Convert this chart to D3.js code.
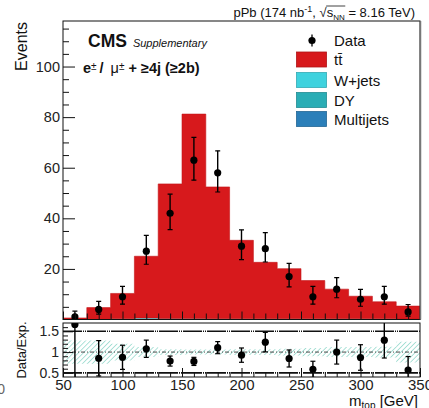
<!DOCTYPE html>
<html><head><meta charset="utf-8">
<script src="https://cdn.jsdelivr.net/npm/d3@7"></script>
<style>
html,body{margin:0;padding:0;background:#fff;}
svg{display:block;font-family:"Liberation Sans",Arial,Helvetica,sans-serif;}
</style></head><body>
<svg id="chart" width="429" height="408"></svg>
<script>
// m_top bins (lower edges, 20 GeV wide)
const binLow = [50, 70, 90, 110, 130, 150, 170, 190, 210, 230, 250, 270, 290, 310, 330];
const binWidth = 20;

// Observed events and asymmetric Poisson uncertainties
const dataCounts  = [1, 4, 9, 27, 42, 63, 58, 29, 28, 17, 9, 12, 8, 9, 3];
const dataErrUp   = [2.30, 3.16, 4.11, 6.26, 7.53, 8.98, 8.66, 6.44, 6.35, 5.20, 4.11, 4.58, 3.94, 4.11, 2.92];
const dataErrDown = [0.83, 1.91, 2.94, 5.16, 6.45, 7.91, 7.59, 5.35, 5.26, 4.08, 2.94, 3.41, 2.76, 2.94, 1.63];

// Expected yields per process
const ttbar     = [0.6, 4.7, 10.0, 24.4, 53.2, 80.8, 52.1, 31.0, 22.3, 19.8, 15.1, 11.7, 8.9, 6.7, 5.1];
const wjets     = [0, 0, 0.1, 0.3, 0.2, 0.2, 0.1, 0.1, 0.1, 0.1, 0.1, 0.1, 0.1, 0.1, 0];
const dy        = [0, 0, 0.1, 0.2, 0.1, 0.1, 0.1, 0.1, 0.1, 0.1, 0.1, 0.1, 0.1, 0.1, 0.1];
const multijets = [0, 0, 0.1, 0.1, 0.1, 0.1, 0.1, 0.1, 0.1, 0.1, 0.1, 0.1, 0.1, 0.1, 0.1];

// Relative uncertainty of the expectation (ratio band)
const relUnc = [0.28, 0.28, 0.2, 0.12, 0.07, 0.06, 0.06, 0.07, 0.07, 0.08, 0.1, 0.12, 0.12, 0.13, 0.25];

// Axis ticks
const yMajor = [20, 40, 60, 80, 100];
const xMajor = [50, 100, 150, 200, 250, 300, 350];
const rMajor = [0.5, 1, 1.5];

const colors = {ttbar: "#d7191c", wjets: "#3fd2de", dy: "#2aadb5", multijets: "#2b7fb9"};

const svg = d3.select("#chart");
const L = 63, R = 420, T = 21, MB = 319.5, RT = 323, RB = 377;

const x = d3.scaleLinear().domain([50, 350]).range([L, R]);
const y = d3.scaleLinear().domain([0, 118]).range([MB, T]);
const yr = d3.scaleLinear().domain([0.4, 1.7]).range([RB, RT]);

const defs = svg.append("defs");
defs.append("clipPath").attr("id", "clipMain").append("rect")
  .attr("x", L).attr("y", T).attr("width", R - L).attr("height", MB - T);
defs.append("clipPath").attr("id", "clipRatio").append("rect")
  .attr("x", L).attr("y", RT).attr("width", R - L).attr("height", RB - RT);
const pat = defs.append("pattern").attr("id", "hatch").attr("patternUnits", "userSpaceOnUse")
  .attr("width", 3.5).attr("height", 3.5).attr("patternTransform", "rotate(45)");
pat.append("line").attr("x1", 0).attr("y1", 0).attr("x2", 0).attr("y2", 3.5)
  .attr("stroke", "#93d9cc").attr("stroke-width", 1.5);

// ---- stacked expectation ----
const rows = binLow.map((lo, i) => ({lo, multijets: multijets[i], dy: dy[i], wjets: wjets[i], ttbar: ttbar[i]}));
const keys = ["multijets", "dy", "wjets", "ttbar"];
const stacked = d3.stack().keys(keys)(rows);
const total = rows.map(r => keys.reduce((s, k) => s + r[k], 0));

const stepArea = d3.area().x(p => x(p.x)).y0(p => y(p.y0)).y1(p => y(p.y1));
const gMain = svg.append("g").attr("clip-path", "url(#clipMain)");
stacked.forEach(series => {
  const pts = [];
  series.forEach((d, i) => {
    pts.push({x: binLow[i], y0: d[0], y1: d[1]});
    pts.push({x: binLow[i] + binWidth, y0: d[0], y1: d[1]});
  });
  gMain.append("path").attr("d", stepArea(pts)).attr("fill", colors[series.key])
    .attr("stroke", series.key === "ttbar" ? "#c2161a" : "none").attr("stroke-width", 0.6);
});

// ---- data points ----
const gData = svg.append("g").attr("clip-path", "url(#clipMain)");
dataCounts.forEach((n, i) => {
  const cx = x(binLow[i] + binWidth / 2);
  const yu = y(n + dataErrUp[i]), yd = y(n - dataErrDown[i]);
  gData.append("line").attr("x1", cx).attr("x2", cx).attr("y1", yu).attr("y2", yd)
    .attr("stroke", "#000").attr("stroke-width", 1.4);
  [yu, yd].forEach(yy => gData.append("line").attr("x1", cx - 2.5).attr("x2", cx + 2.5)
    .attr("y1", yy).attr("y2", yy).attr("stroke", "#000").attr("stroke-width", 1.2));
  gData.append("circle").attr("cx", cx).attr("cy", y(n)).attr("r", 3.6).attr("fill", "#000");
});

// ---- main frame and axes ----
const gyMinor = svg.append("g").attr("transform", `translate(${L},0)`)
  .call(d3.axisLeft(y).tickValues(d3.range(5, 116, 5).filter(v => v % 20 !== 0)).tickSize(-6).tickFormat(""));
const gyMajor = svg.append("g").attr("transform", `translate(${L},0)`)
  .call(d3.axisLeft(y).tickValues(yMajor).tickSize(-12).tickPadding(3));
const gxMainMinor = svg.append("g").attr("transform", `translate(0,${MB})`)
  .call(d3.axisBottom(x).tickValues(d3.range(60, 350, 10).filter(v => v % 50 !== 0)).tickSize(-6).tickFormat(""));
const gxMainMajor = svg.append("g").attr("transform", `translate(0,${MB})`)
  .call(d3.axisBottom(x).tickValues(xMajor).tickSize(-8).tickFormat(""));
[gyMinor, gyMajor, gxMainMinor, gxMainMajor].forEach(g => {
  g.select(".domain").remove();
  g.selectAll("line").attr("stroke", "#111").attr("stroke-width", 1);
});
gyMajor.selectAll("text").style("font-size", "14.5px").attr("fill", "#222").attr("font-family", null);

svg.append("rect").attr("x", L).attr("y", T).attr("width", R - L).attr("height", MB - T)
  .attr("fill", "none").attr("stroke", "#111").attr("stroke-width", 1);
svg.append("line").attr("x1", R + 0.5).attr("x2", R + 0.5).attr("y1", T).attr("y2", MB)
  .attr("stroke", "#777").attr("stroke-width", 1.5);

// ---- ratio pad ----
const gRatio = svg.append("g").attr("clip-path", "url(#clipRatio)");
const bandPts = [];
relUnc.forEach((u, i) => {
  bandPts.push({x: binLow[i], y0: 1 - u, y1: 1 + u});
  bandPts.push({x: binLow[i] + binWidth, y0: 1 - u, y1: 1 + u});
});
gRatio.append("path").attr("d", d3.area().x(p => x(p.x)).y0(p => yr(p.y0)).y1(p => yr(p.y1))(bandPts))
  .attr("fill", "url(#hatch)");

[0.5, 1.5].forEach(v => gRatio.append("line").attr("x1", L).attr("x2", R).attr("y1", yr(v)).attr("y2", yr(v))
  .attr("stroke", "#111").attr("stroke-width", 1.6).attr("stroke-dasharray", "19 1 1 1 1 1"));
gRatio.append("line").attr("x1", L).attr("x2", R).attr("y1", yr(1)).attr("y2", yr(1))
  .attr("stroke", "#333").attr("stroke-width", 0.9).attr("stroke-dasharray", "4 2 1 2");

dataCounts.forEach((n, i) => {
  const cx = x(binLow[i] + binWidth / 2);
  const r = n / total[i], e = Math.sqrt(n) / total[i];
  const yu = yr(r + e), yd = yr(r - e);
  gRatio.append("line").attr("x1", cx).attr("x2", cx).attr("y1", yu).attr("y2", yd)
    .attr("stroke", "#000").attr("stroke-width", 1.4);
  [yu, yd].forEach(yy => gRatio.append("line").attr("x1", cx - 2.5).attr("x2", cx + 2.5)
    .attr("y1", yy).attr("y2", yy).attr("stroke", "#000").attr("stroke-width", 1.2));
  gRatio.append("circle").attr("cx", cx).attr("cy", yr(r)).attr("r", 3.6).attr("fill", "#000");
});

const grMinor = svg.append("g").attr("transform", `translate(${L},0)`)
  .call(d3.axisLeft(yr).tickValues(d3.range(0.5, 1.65, 0.1).map(v => +v.toFixed(1)).filter(v => !rMajor.includes(v))).tickSize(-5).tickFormat(""));
const grMajor = svg.append("g").attr("transform", `translate(${L},0)`)
  .call(d3.axisLeft(yr).tickValues(rMajor).tickSize(-10).tickPadding(4).tickFormat(d3.format("")));
const gxMinor = svg.append("g").attr("transform", `translate(0,${RB})`)
  .call(d3.axisBottom(x).tickValues(d3.range(60, 350, 10).filter(v => v % 50 !== 0)).tickSize(-5).tickFormat(""));
const gxMajor = svg.append("g").attr("transform", `translate(0,${RB})`)
  .call(d3.axisBottom(x).tickValues(xMajor).tickSize(-9).tickPadding(6));
[grMinor, grMajor, gxMinor, gxMajor].forEach(g => {
  g.select(".domain").remove();
  g.selectAll("line").attr("stroke", "#111").attr("stroke-width", 1);
});
grMajor.selectAll("text").style("font-size", "14px").attr("fill", "#222").attr("font-family", null);
gxMajor.selectAll("text").style("font-size", "15px").attr("fill", "#222").attr("font-family", null)
  .attr("y", 2);

svg.append("rect").attr("x", L).attr("y", RT).attr("width", R - L).attr("height", RB - RT)
  .attr("fill", "none").attr("stroke", "#111").attr("stroke-width", 1);

// ---- axis titles ----
svg.append("text").attr("transform", "translate(27,22) rotate(-90)").attr("text-anchor", "end")
  .style("font-size", "16px").attr("fill", "#111").text("Events");
svg.append("text").attr("transform", `translate(26,${(RT + RB) / 2}) rotate(-90)`).attr("text-anchor", "middle")
  .style("font-size", "13px").attr("fill", "#111").text("Data/Exp.");
const xt = svg.append("text").attr("x", 418).attr("y", 406).attr("text-anchor", "end")
  .style("font-size", "15px").attr("fill", "#111");
xt.append("tspan").text("m");
xt.append("tspan").attr("dy", 3).style("font-size", "10px").text("top");
xt.append("tspan").attr("dy", -3).text(" [GeV]");
svg.append("text").attr("x", 5).attr("y", 394).attr("text-anchor", "end")
  .style("font-size", "14px").attr("fill", "#666").text("0");

// ---- header ----
const hdr = svg.append("text").attr("x", 415).attr("y", 17).attr("text-anchor", "end")
  .style("font-size", "13px").attr("fill", "#111");
hdr.append("tspan").text("pPb (174 nb");
hdr.append("tspan").attr("dy", -5).style("font-size", "9px").text("-1");
hdr.append("tspan").attr("dy", 5).text(", ");
hdr.append("tspan").text("\u221A");
hdr.append("tspan").text("s");
hdr.append("tspan").attr("dy", 2.5).style("font-size", "8px").text("NN");
hdr.append("tspan").attr("dy", -2.5).text(" = 8.16 TeV)");
const hn = hdr.node();
const sStart = hn.getEndPositionOfChar(15).x, nnEnd = hn.getEndPositionOfChar(18).x;
svg.append("line").attr("x1", sStart - 0.5).attr("x2", nnEnd + 0.5).attr("y1", 6).attr("y2", 6)
  .attr("stroke", "#111").attr("stroke-width", 0.8);

// ---- CMS label and selection ----
const cms = svg.append("text").attr("x", 88).attr("y", 47).attr("fill", "#111");
cms.append("tspan").style("font-size", "17.5px").style("font-weight", "bold").text("CMS");
cms.append("tspan").attr("dx", 6).style("font-size", "11px").style("font-style", "italic").text("Supplementary");

const sel = svg.append("text").attr("x", 83).attr("y", 73).attr("fill", "#111")
  .style("font-size", "14.5px").style("font-weight", "bold");
sel.append("tspan").text("e");
sel.append("tspan").attr("dy", -3.5).style("font-size", "10px").style("font-weight", "normal").text("\u00B1");
sel.append("tspan").attr("dy", 3.5).attr("dx", 3).text("/");
sel.append("tspan").attr("dx", 7).style("font-weight", "normal").text("\u03BC");
sel.append("tspan").attr("dy", -3.5).style("font-size", "10px").style("font-weight", "normal").text("\u00B1");
sel.append("tspan").attr("dy", 3.5).text(" + \u22654j (\u22652b)");

// ---- legend ----
const legendItems = [
  {label: "Data", type: "data"},
  {label: "t\u0074\u0304", key: "ttbar"},
  {label: "W+jets", key: "wjets"},
  {label: "DY", key: "dy"},
  {label: "Multijets", key: "multijets"}
];
const rowY = [40.5, 59.5, 80, 100, 119];
const gLeg = svg.append("g");
legendItems.forEach((it, i) => {
  const cy = rowY[i];
  if (it.type === "data") {
    gLeg.append("line").attr("x1", 312).attr("x2", 312).attr("y1", cy - 6).attr("y2", cy + 6)
      .attr("stroke", "#000").attr("stroke-width", 1.3);
    gLeg.append("circle").attr("cx", 312).attr("cy", cy).attr("r", 3.6).attr("fill", "#000");
  } else {
    gLeg.append("rect").attr("x", 296.5).attr("y", cy - 7.5).attr("width", 30).attr("height", 15)
      .attr("fill", colors[it.key]).attr("stroke", d3.color(colors[it.key]).darker(0.6)).attr("stroke-width", 0.8);
  }
  gLeg.append("text").attr("x", 334).attr("y", cy + 5.5).style("font-size", "15px").attr("fill", "#111")
    .text(it.label);
});
</script>
</body></html>
